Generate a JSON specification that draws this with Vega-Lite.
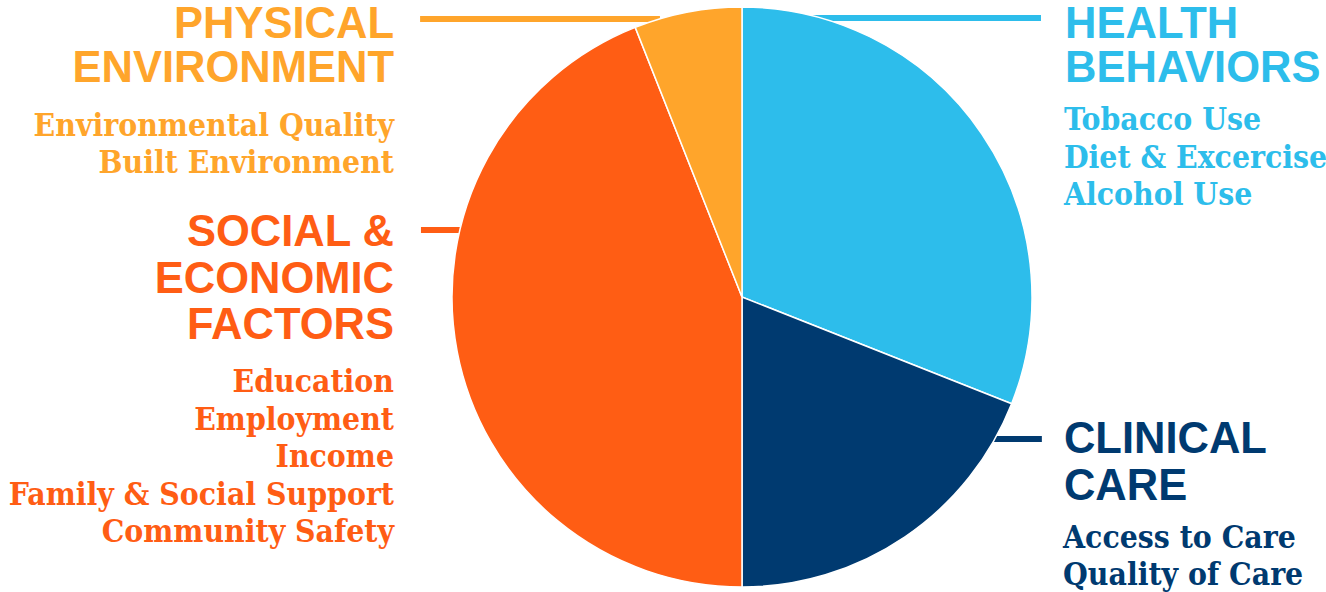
{
  "$schema": "https://vega.github.io/schema/vega-lite/v6.json",
  "width": 1326,
  "height": 592,
  "padding": 0,
  "autosize": {"type": "none"},
  "background": "white",
  "config": {"view": {"stroke": null}},
  "datasets": {
    "slices": [
      {"factor": "Health Behaviors", "share": 31, "order": 1, "cx": 0, "cy": 0},
      {"factor": "Clinical Care", "share": 19, "order": 2, "cx": 0, "cy": 0},
      {"factor": "Social & Economic Factors", "share": 44, "order": 3, "cx": 0, "cy": 0},
      {"factor": "Physical Environment", "share": 6, "order": 4, "cx": 0, "cy": 0}
    ],
    "leaders": [
      {"factor": "Physical Environment", "x": -111.0, "x2": -28.3, "y": 95.9},
      {"factor": "Health Behaviors", "x": 1.0, "x2": 103.1, "y": 96.2},
      {"factor": "Clinical Care", "x": 85.5, "x2": 103.4, "y": -49.0},
      {"factor": "Social & Economic Factors", "x": -110.7, "x2": -93.8, "y": 23.1}
    ],
    "labels": [
      {"factor": "Physical Environment", "side": "left", "kind": "head", "text": "PHYSICAL", "x": -120.0, "y": 89.4},
      {"factor": "Physical Environment", "side": "left", "kind": "head", "text": "ENVIRONMENT", "x": -120.0, "y": 74.0},
      {"factor": "Physical Environment", "side": "left", "kind": "sub", "text": "Environmental Quality", "x": -120.0, "y": 55.52},
      {"factor": "Physical Environment", "side": "left", "kind": "sub", "text": "Built Environment", "x": -120.0, "y": 42.76},
      {"factor": "Social & Economic Factors", "side": "left", "kind": "head", "text": "SOCIAL &", "x": -120.0, "y": 17.59},
      {"factor": "Social & Economic Factors", "side": "left", "kind": "head", "text": "ECONOMIC", "x": -120.0, "y": 1.55},
      {"factor": "Social & Economic Factors", "side": "left", "kind": "head", "text": "FACTORS", "x": -120.0, "y": -14.31},
      {"factor": "Social & Economic Factors", "side": "left", "kind": "sub", "text": "Education", "x": -120.0, "y": -32.59},
      {"factor": "Social & Economic Factors", "side": "left", "kind": "sub", "text": "Employment", "x": -120.0, "y": -45.69},
      {"factor": "Social & Economic Factors", "side": "left", "kind": "sub", "text": "Income", "x": -120.0, "y": -58.62},
      {"factor": "Social & Economic Factors", "side": "left", "kind": "sub", "text": "Family & Social Support", "x": -120.0, "y": -71.72},
      {"factor": "Social & Economic Factors", "side": "left", "kind": "sub", "text": "Community Safety", "x": -120.0, "y": -84.48},
      {"factor": "Health Behaviors", "side": "right", "kind": "head", "text": "HEALTH", "x": 111.4, "y": 89.4},
      {"factor": "Health Behaviors", "side": "right", "kind": "head", "text": "BEHAVIORS", "x": 111.4, "y": 74.0},
      {"factor": "Health Behaviors", "side": "right", "kind": "sub", "text": "Tobacco Use", "x": 111.0, "y": 57.59},
      {"factor": "Health Behaviors", "side": "right", "kind": "sub", "text": "Diet & Excercise", "x": 111.0, "y": 44.48},
      {"factor": "Health Behaviors", "side": "right", "kind": "sub", "text": "Alcohol Use", "x": 111.0, "y": 31.72},
      {"factor": "Clinical Care", "side": "right", "kind": "head", "text": "CLINICAL", "x": 111.0, "y": -53.79},
      {"factor": "Clinical Care", "side": "right", "kind": "head", "text": "CARE", "x": 111.0, "y": -70.0},
      {"factor": "Clinical Care", "side": "right", "kind": "sub", "text": "Access to Care", "x": 110.7, "y": -86.55},
      {"factor": "Clinical Care", "side": "right", "kind": "sub", "text": "Quality of Care", "x": 110.7, "y": -99.31}
    ]
  },
  "layer": [
    {
      "data": {"name": "leaders"},
      "mark": {"type": "rule", "strokeWidth": 6},
      "encoding": {
        "x": {"field": "x", "type": "quantitative", "scale": {"domain": [-255.86, 201.38], "nice": false, "zero": false}, "axis": null},
        "x2": {"field": "x2"},
        "y": {"field": "y", "type": "quantitative", "scale": {"domain": [-101.72, 102.41], "nice": false, "zero": false}, "axis": null},
        "color": {"field": "factor", "type": "nominal", "legend": null, "scale": {"domain": ["Health Behaviors", "Clinical Care", "Social & Economic Factors", "Physical Environment"], "range": ["#2DBDEB", "#003A70", "#FF5D14", "#FFA52B"]}}
      }
    },
    {
      "data": {"name": "slices"},
      "mark": {"type": "arc", "radius": 290, "stroke": "white", "strokeWidth": 1.5},
      "encoding": {
        "theta": {"field": "share", "type": "quantitative", "stack": true},
        "order": {"field": "order", "type": "quantitative"},
        "x": {"field": "cx", "type": "quantitative", "scale": {"domain": [-255.86, 201.38], "nice": false, "zero": false}, "axis": null},
        "y": {"field": "cy", "type": "quantitative", "scale": {"domain": [-101.72, 102.41], "nice": false, "zero": false}, "axis": null},
        "color": {"field": "factor", "type": "nominal", "legend": null}
      }
    },
    {
      "data": {"name": "labels"},
      "transform": [{"filter": "datum.side === 'left' && datum.kind === 'head'"}],
      "mark": {"type": "text", "align": "right", "baseline": "alphabetic", "font": "Liberation Sans", "fontWeight": "bold", "fontSize": 43.5},
      "encoding": {
        "x": {"field": "x", "type": "quantitative", "axis": null},
        "y": {"field": "y", "type": "quantitative", "axis": null},
        "text": {"field": "text"},
        "color": {"field": "factor", "type": "nominal", "legend": null}
      }
    },
    {
      "data": {"name": "labels"},
      "transform": [{"filter": "datum.side === 'right' && datum.kind === 'head'"}],
      "mark": {"type": "text", "align": "left", "baseline": "alphabetic", "font": "Liberation Sans", "fontWeight": "bold", "fontSize": 43.5},
      "encoding": {
        "x": {"field": "x", "type": "quantitative", "axis": null},
        "y": {"field": "y", "type": "quantitative", "axis": null},
        "text": {"field": "text"},
        "color": {"field": "factor", "type": "nominal", "legend": null}
      }
    },
    {
      "data": {"name": "labels"},
      "transform": [{"filter": "datum.side === 'left' && datum.kind === 'sub'"}],
      "mark": {"type": "text", "align": "right", "baseline": "alphabetic", "font": "DejaVu Serif Condensed", "fontWeight": "bold", "fontSize": 31.6},
      "encoding": {
        "x": {"field": "x", "type": "quantitative", "axis": null},
        "y": {"field": "y", "type": "quantitative", "axis": null},
        "text": {"field": "text"},
        "color": {"field": "factor", "type": "nominal", "legend": null}
      }
    },
    {
      "data": {"name": "labels"},
      "transform": [{"filter": "datum.side === 'right' && datum.kind === 'sub'"}],
      "mark": {"type": "text", "align": "left", "baseline": "alphabetic", "font": "DejaVu Serif Condensed", "fontWeight": "bold", "fontSize": 31.6},
      "encoding": {
        "x": {"field": "x", "type": "quantitative", "axis": null},
        "y": {"field": "y", "type": "quantitative", "axis": null},
        "text": {"field": "text"},
        "color": {"field": "factor", "type": "nominal", "legend": null}
      }
    }
  ]
}
